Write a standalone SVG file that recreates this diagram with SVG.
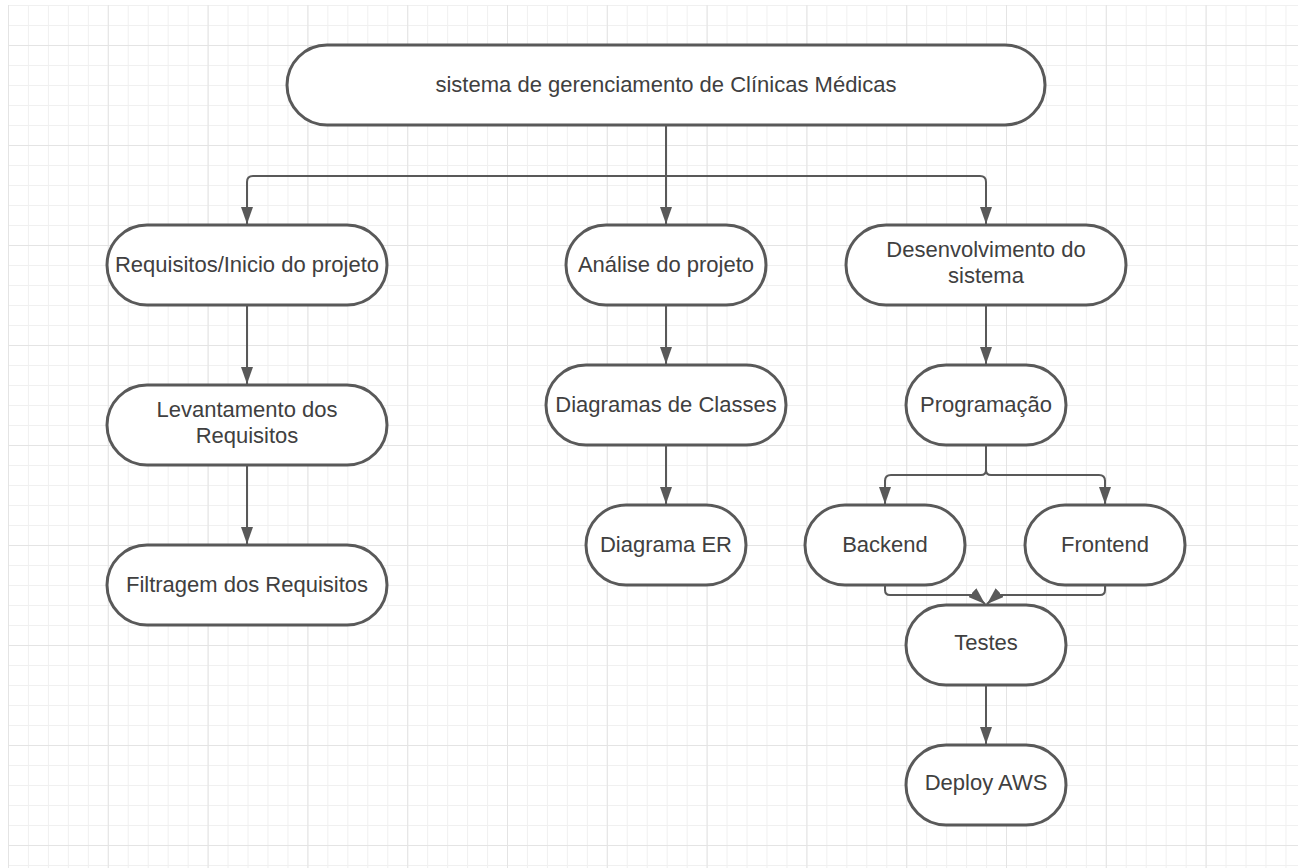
<svg xmlns="http://www.w3.org/2000/svg" width="1298" height="868" viewBox="0 0 1298 868">
  <style>
    .node { fill: #ffffff; stroke: #595959; stroke-width: 3; }
    .label { font-family: "Liberation Sans", Arial, sans-serif; font-size: 22px; fill: #404040; text-anchor: middle; }
    .edge { fill: none; stroke: #595959; stroke-width: 2; }
    .arrow { marker-end: url(#head); }
  </style>
  <defs>
    <pattern id="minor" patternUnits="userSpaceOnUse" x="8" y="5" width="19.96" height="20">
      <path d="M0.5,0 V20 M0,0.5 H19.96" fill="none" stroke="#f0f0f0" stroke-width="1"/>
    </pattern>
    <pattern id="major" patternUnits="userSpaceOnUse" x="8" y="-55" width="99.8" height="100">
      <path d="M0.5,0 V100 M0,0.5 H99.8" fill="none" stroke="#e4e4e4" stroke-width="1"/>
    </pattern>
    <marker id="head" viewBox="0 0 17 12" refX="17" refY="6" markerWidth="17" markerHeight="12" markerUnits="userSpaceOnUse" orient="auto">
      <path d="M0,0 L17,6 L0,12 z" fill="#595959"/>
    </marker>
  </defs>

  <!-- background and grid -->
  <rect x="0" y="0" width="1298" height="868" fill="#ffffff"/>
  <rect x="8" y="5" width="1290" height="863" fill="url(#minor)"/>
  <rect x="8" y="5" width="1290" height="863" fill="url(#major)"/>

  <!-- connectors -->
  <g id="connectors">
    <path class="edge" d="M666,125 V176"/>
    <path class="edge arrow" d="M666,176 H253 Q247,176 247,182 V224"/>
    <path class="edge arrow" d="M666,176 V224"/>
    <path class="edge arrow" d="M666,176 H980 Q986,176 986,182 V224"/>

    <path class="edge arrow" d="M247,305 V384"/>
    <path class="edge arrow" d="M247,465 V544"/>

    <path class="edge arrow" d="M666,305 V364"/>
    <path class="edge arrow" d="M666,445 V504"/>

    <path class="edge arrow" d="M986,305 V364"/>
    <path class="edge" d="M986,445 V470 Q986,475 981,475 H891 Q885,475 885,481 V486"/>
    <path class="edge arrow" d="M885,480 V504"/>
    <path class="edge" d="M986,470 Q986,475 991,475 H1099 Q1105,475 1105,481 V486"/>
    <path class="edge arrow" d="M1105,480 V504"/>

    <path class="edge arrow" d="M885,585 V590 Q885,595 890,595 H975 L985,604"/>
    <path class="edge arrow" d="M1105,585 V590 Q1105,595 1100,595 H997 L987,604"/>

    <path class="edge arrow" d="M986,685 V744"/>
  </g>

  <!-- nodes -->
  <g id="node-sistema">
    <rect class="node" x="287" y="45" width="758" height="80" rx="40"/>
    <text class="label" x="666" y="92">sistema de gerenciamento de Clínicas Médicas</text>
  </g>
  <g id="node-requisitos">
    <rect class="node" x="107" y="225" width="280" height="80" rx="40"/>
    <text class="label" x="247" y="272">Requisitos/Inicio do projeto</text>
  </g>
  <g id="node-analise">
    <rect class="node" x="566" y="225" width="200" height="80" rx="40"/>
    <text class="label" x="666" y="272">Análise do projeto</text>
  </g>
  <g id="node-desenvolvimento">
    <rect class="node" x="846" y="225" width="280" height="80" rx="40"/>
    <text class="label" x="986" y="257">Desenvolvimento do</text>
    <text class="label" x="986" y="283">sistema</text>
  </g>
  <g id="node-levantamento">
    <rect class="node" x="107" y="385" width="280" height="80" rx="40"/>
    <text class="label" x="247" y="417">Levantamento dos</text>
    <text class="label" x="247" y="443">Requisitos</text>
  </g>
  <g id="node-diagramas-classes">
    <rect class="node" x="546" y="365" width="240" height="80" rx="40"/>
    <text class="label" x="666" y="412">Diagramas de Classes</text>
  </g>
  <g id="node-programacao">
    <rect class="node" x="906" y="365" width="160" height="80" rx="40"/>
    <text class="label" x="986" y="412">Programação</text>
  </g>
  <g id="node-filtragem">
    <rect class="node" x="107" y="545" width="280" height="80" rx="40"/>
    <text class="label" x="247" y="592">Filtragem dos Requisitos</text>
  </g>
  <g id="node-diagrama-er">
    <rect class="node" x="586" y="505" width="160" height="80" rx="40"/>
    <text class="label" x="666" y="552">Diagrama ER</text>
  </g>
  <g id="node-backend">
    <rect class="node" x="805" y="505" width="160" height="80" rx="40"/>
    <text class="label" x="885" y="552">Backend</text>
  </g>
  <g id="node-frontend">
    <rect class="node" x="1025" y="505" width="160" height="80" rx="40"/>
    <text class="label" x="1105" y="552">Frontend</text>
  </g>
  <g id="node-testes">
    <rect class="node" x="906" y="605" width="160" height="80" rx="40"/>
    <text class="label" x="986" y="650">Testes</text>
  </g>
  <g id="node-deploy">
    <rect class="node" x="906" y="745" width="160" height="80" rx="40"/>
    <text class="label" x="986" y="790">Deploy AWS</text>
  </g>
</svg>
